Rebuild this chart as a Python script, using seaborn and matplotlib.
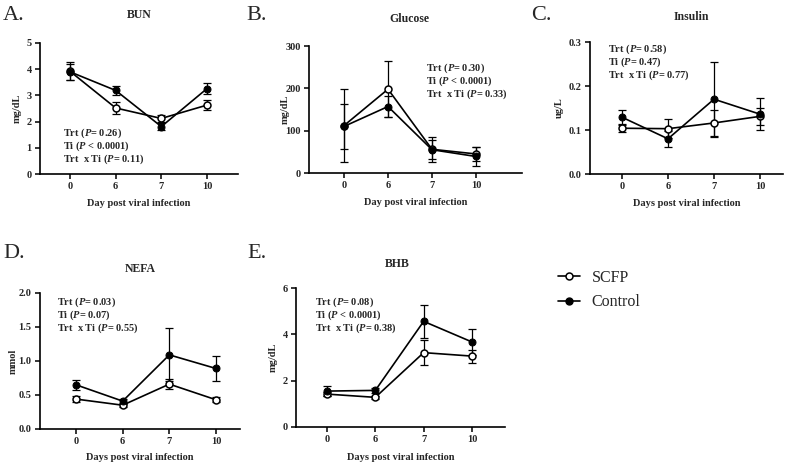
import numpy as np
import pandas as pd
import matplotlib
matplotlib.use("Agg")
import matplotlib.pyplot as plt
import seaborn as sns
from matplotlib.lines import Line2D

# ---------------- data ----------------
day_labels = ["0", "6", "7", "10"]
group_names = ["SCFP", "Control"]

bun_scfp = [3.92, 2.52, 2.12, 2.63]
bun_scfp_err = [0.35, 0.24, 0.15, 0.20]
bun_ctrl = [3.90, 3.19, 1.81, 3.26]
bun_ctrl_err = [0.30, 0.18, 0.14, 0.20]

glu_scfp = [112, 198, 56, 45]
glu_scfp_err = [87, 66, 30, 17]
glu_ctrl = [110, 157, 55, 39]
glu_ctrl_err = [54, 25, 23, 23]

ins_scfp = [0.104, 0.103, 0.116, 0.131]
ins_scfp_err = [0.008, 0.021, 0.030, 0.020]
ins_ctrl = [0.129, 0.080, 0.170, 0.136]
ins_ctrl_err = [0.016, 0.018, 0.085, 0.037]

nefa_scfp = [0.44, 0.35, 0.66, 0.43]
nefa_scfp_err = [0.04, 0.02, 0.07, 0.04]
nefa_ctrl = [0.65, 0.41, 1.09, 0.89]
nefa_ctrl_err = [0.07, 0.03, 0.39, 0.18]

bhb_scfp = [1.42, 1.28, 3.21, 3.06]
bhb_scfp_err = [0.10, 0.07, 0.55, 0.28]
bhb_ctrl = [1.55, 1.58, 4.56, 3.67]
bhb_ctrl_err = [0.20, 0.12, 0.70, 0.57]

titles = ["BUN", "Glucose", "Insulin", "NEFA", "BHB"]
letters = ["A.", "B.", "C.", "D.", "E."]
ylabels = ["mg/dL", "mg/dL", "ug/L", "mmol", "mg/dL"]
xlabels = ["Day post viral infection", "Day post viral infection",
           "Days post viral infection", "Days post viral infection",
           "Days post viral infection"]
yticks_list = [[0, 1, 2, 3, 4, 5], [0, 100, 200, 300], [0.0, 0.1, 0.2, 0.3],
               [0.0, 0.5, 1.0, 1.5, 2.0], [0, 2, 4, 6]]
ytick_labels = [["0", "1", "2", "3", "4", "5"], ["0", "100", "200", "300"],
                ["0.0", "0.1", "0.2", "0.3"], ["0.0", "0.5", "1.0", "1.5", "2.0"],
                ["0", "2", "4", "6"]]
stats_text = [
    [r"Trt ($P$= 0.26)", r"Ti ($P$ < 0.0001)", r"Trt  x Ti ($P$= 0.11)"],
    [r"Trt ($P$= 0.30)", r"Ti ($P$ < 0.0001)", r"Trt  x Ti ($P$= 0.33)"],
    [r"Trt ($P$= 0.58)", r"Ti ($P$= 0.47)", r"Trt  x Ti ($P$= 0.77)"],
    [r"Trt ($P$= 0.03)", r"Ti ($P$= 0.07)", r"Trt  x Ti ($P$= 0.55)"],
    [r"Trt ($P$= 0.08)", r"Ti ($P$ < 0.0001)", r"Trt  x Ti ($P$= 0.38)"],
]
series = [
    (bun_scfp, bun_scfp_err, bun_ctrl, bun_ctrl_err),
    (glu_scfp, glu_scfp_err, glu_ctrl, glu_ctrl_err),
    (ins_scfp, ins_scfp_err, ins_ctrl, ins_ctrl_err),
    (nefa_scfp, nefa_scfp_err, nefa_ctrl, nefa_ctrl_err),
    (bhb_scfp, bhb_scfp_err, bhb_ctrl, bhb_ctrl_err),
]

# ---------------- layout (pixels) ----------------
W, H = 788, 466
# left, right, top, bottom of axes; x pixel of first and last category
boxes = [
    (40, 238, 43, 174, 70, 207),
    (309, 522, 46, 173, 344, 476),
    (590, 783, 42, 174, 622, 760),
    (40, 240, 293, 429, 76, 216),
    (296, 505, 288, 427, 327, 472),
]
title_pos = [(139, 15), (409, 19), (691, 17), (140, 269), (397, 264)]
letter_pos = [(14, 15), (257, 15), (541, 15), (14, 253), (257, 253)]
stats_pos = [(63, 133), (426, 68), (608, 49), (57, 302), (315, 302)]
ylabel_x = [17, 285, 559, 13, 273]
xlabel_y = [204, 202, 204, 458, 458]

sns.set_style("ticks")
plt.rcParams["font.family"] = ["Liberation Serif", "DejaVu Serif"]
plt.rcParams["font.weight"] = "bold"
plt.rcParams["mathtext.fontset"] = "custom"
plt.rcParams["mathtext.it"] = "Liberation Serif:italic:bold"
plt.rcParams["mathtext.rm"] = "Liberation Serif:bold"
plt.rcParams["mathtext.bf"] = "Liberation Serif:bold"

fig = plt.figure(figsize=(W / 100, H / 100), dpi=100)


def fx(x):
    return x / W


def fy(y):
    return 1 - y / H


pos = np.arange(len(day_labels))
MS = 5.0

for i in range(5):
    L, R, T, B, x0, x3 = boxes[i]
    ax = fig.add_axes([fx(L), fy(B), (R - L) / W, (B - T) / H])
    s_vals, s_err, c_vals, c_err = series[i]

    ax.errorbar(pos, s_vals, yerr=s_err, fmt="none", ecolor="black",
                elinewidth=0.9, capsize=3, capthick=0.9, zorder=2)
    ax.errorbar(pos, c_vals, yerr=c_err, fmt="none", ecolor="black",
                elinewidth=0.9, capsize=3, capthick=0.9, zorder=2)
    sns.lineplot(x=pos, y=s_vals, ax=ax, color="black", marker="o",
                 markersize=MS, markerfacecolor="white",
                 markeredgecolor="black", markeredgewidth=1.1,
                 linewidth=1.2, zorder=3)
    sns.lineplot(x=pos, y=c_vals, ax=ax, color="black", marker="o",
                 markersize=MS, markerfacecolor="black",
                 markeredgecolor="black", linewidth=1.2, zorder=4)

    ppx = (x3 - x0) / 3.0
    ax.set_xlim((L - x0) / ppx, 3 + (R - x3) / ppx)
    yt = yticks_list[i]
    ax.set_ylim(yt[0], yt[-1])
    ax.set_xticks(pos)
    ax.set_xticklabels(day_labels)
    ax.set_yticks(yt)
    ax.set_yticklabels(ytick_labels[i])
    ax.tick_params(axis="both", labelsize=7.5, length=3.5, width=1.1,
                   direction="out", color="black", pad=2.5)
    for lab in ax.get_xticklabels() + ax.get_yticklabels():
        lab.set_fontweight("bold")
    sns.despine(ax=ax)
    for sp in ["left", "bottom"]:
        ax.spines[sp].set_linewidth(1.2)
        ax.spines[sp].set_color("black")

    ax.set_xlabel(xlabels[i], fontsize=7.5, fontweight="bold")
    ax.set_ylabel(ylabels[i], fontsize=7.5, fontweight="bold")
    ax.xaxis.set_label_coords(0.5, (B - xlabel_y[i]) / (B - T))
    ax.yaxis.set_label_coords((ylabel_x[i] - L) / (R - L), 0.5)
    ax.xaxis.label.set_verticalalignment("center")
    ax.yaxis.label.set_verticalalignment("center")

    fig.text(fx(title_pos[i][0]), fy(title_pos[i][1]), titles[i],
             fontsize=8.5, fontweight="bold", ha="center", va="center")
    fig.text(fx(letter_pos[i][0]), fy(letter_pos[i][1]), letters[i],
             fontsize=16, fontweight="normal", ha="center", va="center")
    sx, sy = stats_pos[i]
    for k, line in enumerate(stats_text[i]):
        fig.text(fx(sx), fy(sy + 13 * k), line, fontsize=7.5,
                 fontweight="bold", ha="left", va="center")

handles = [
    Line2D([0], [0], color="black", marker="o", markersize=MS,
           markerfacecolor="white", markeredgecolor="black",
           markeredgewidth=1.1, linewidth=1.2),
    Line2D([0], [0], color="black", marker="o", markersize=MS,
           markerfacecolor="black", linewidth=1.2),
]
leg = fig.legend(handles, group_names, loc="center left",
                 bbox_to_anchor=(fx(558), fy(290)), frameon=False,
                 prop={"family": "Liberation Serif", "weight": "normal",
                       "size": 11.5},
                 handlelength=1.4, handletextpad=0.7, labelspacing=0.55,
                 borderpad=0, borderaxespad=0)

fig.savefig("out.png", dpi=100)
